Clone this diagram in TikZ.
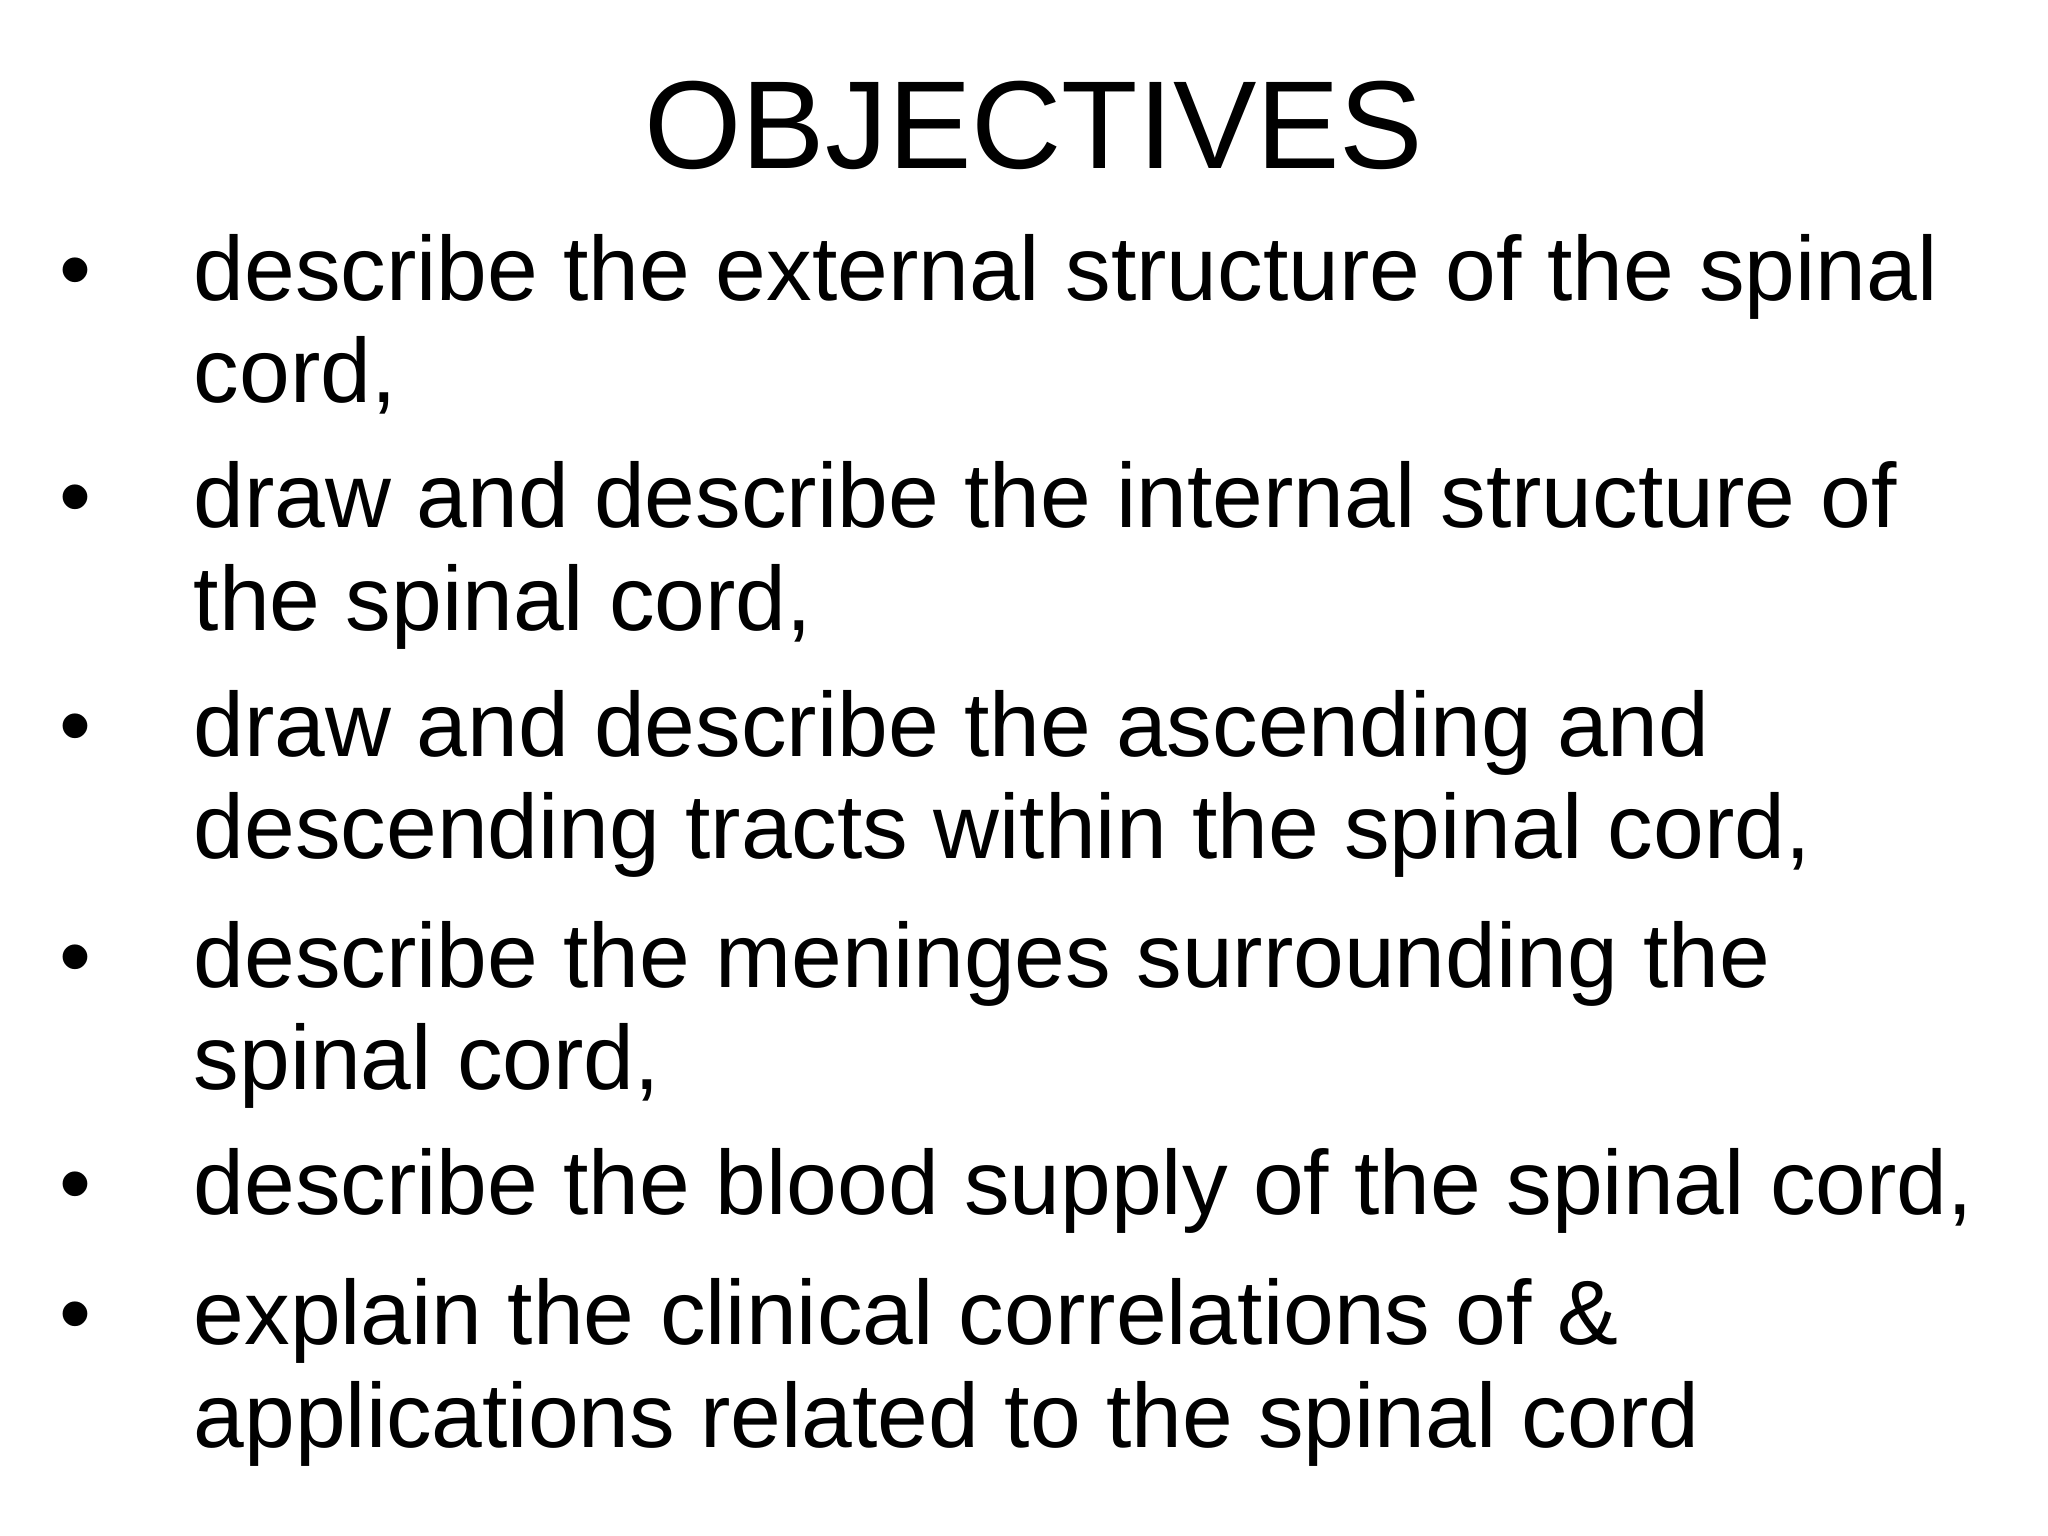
\documentclass[tikz,border=0pt]{standalone}
\usepackage{fontspec}
\setmainfont{Liberation Sans}
\begin{document}
\begin{tikzpicture}[x=1cm,y=1cm,
  ln/.style={anchor=base west,inner sep=0pt,font=\fontsize{25.95}{31}\selectfont},
  bl/.style={anchor=base,inner sep=0pt,font=\fontsize{25.95}{31}\selectfont}]
\useasboundingbox (0,0) rectangle (20.48,15.36);
\node[anchor=base,inner sep=0pt,font=\fontsize{35.6}{43}\selectfont] (title) at (10.34,15.36-1.69) {OBJECTIVES};
\foreach \n/\y/\t in {a1/3.01/{describe the external structure of the spinal},a2/4.03/{cord,},
  b1/5.28/{draw and describe the internal structure of},b2/6.31/{the spinal cord,},
  c1/7.57/{draw and describe the ascending and},c2/8.59/{descending tracts within the spinal cord,},
  d1/9.88/{describe the meninges surrounding the},d2/10.90/{spinal cord,},
  e1/12.15/{describe the blood supply of the spinal cord,},
  f1/13.45/{explain the clinical correlations of \&},f2/14.48/{applications related to the spinal cord}}
  \node[ln] (\n) at (1.93,15.36-\y) {\t};
\foreach \y in {3.01,5.28,7.57,9.88,12.15,13.45}
  \node[bl] at (0.75,15.36-\y) {•};
\end{tikzpicture}
\end{document}
